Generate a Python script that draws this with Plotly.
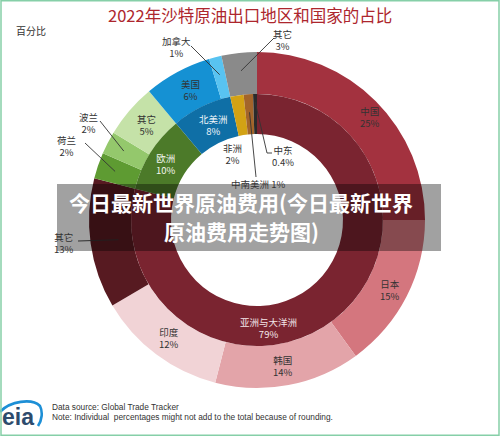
import math
import plotly.graph_objects as go

# ---------------- data ----------------
region_labels = ["亚洲与大洋洲", "欧洲", "北美洲", "非洲", "中南美洲", "中东"]
region_values = [79.0, 9.9, 7.7, 1.7, 1.2, 0.5]
region_text = ["79%", "10%", "8%", "2%", "1%", "0.4%"]

country_labels = ["中国", "日本", "韩国", "印度", "其它", "荷兰", "波兰", "其它", "美国", "加拿大", "其它"]
country_values = [25.0, 15.0, 14.0, 12.5, 12.5, 2.5, 2.2, 5.2, 6.5, 1.2, 3.4]
country_text = ["25%", "15%", "14%", "12%", "13%", "2%", "2%", "5%", "6%", "1%", "3%"]

title_text = "2022年沙特原油出口地区和国家的占比"
unit_text = "百分比"
banner_lines = ["今日最新世界原油费用(今日最新世界", "原油费用走势图)"]
source_lines = ["Data source: Global Trade Tracker",
                "Note: Individual  percentages might not add to the total because of rounding."]

# ---------------- styles / layout ----------------
W, H = 500, 436
CX, CY = 257, 220
R_OUT, R_MID, R_IN = 168, 126, 86
FONT = "Noto Sans CJK SC"

region_colors = ["#7a2430", "#4c7a29", "#0f6fa6", "#d3a214", "#a3652a", "#2b2b2b"]
country_colors = ["#a3323f", "#d4767e", "#e3a4a9", "#f1d3d6", "#571a21",
                  "#5e9b32", "#94c86c", "#c5e2a8", "#1591d3", "#58c3f1", "#8a8a8a"]


def fx(x):
    return x / W


def fy(y):
    return 1 - y / H


def mid_angles(values):
    total = sum(values)
    out, cum = [], 0.0
    for v in values:
        out.append((cum + v / 2) / total * 360)
        cum += v
    return out


def polar(theta, r):
    t = math.radians(theta)
    return CX + r * math.sin(t), CY - r * math.cos(t)


# label placement: text position (px), optional leader line (end point px, radius of start in slice)
country_place = {
    0: dict(pos=(370, 117)),
    1: dict(pos=(390, 290)),
    2: dict(pos=(283, 366)),
    3: dict(pos=(169, 338)),
    4: dict(pos=(64, 243), line_end=(78, 241), line_r=140),
    5: dict(pos=(66, 146), line_end=(85, 143), line_r=150),
    6: dict(pos=(88, 123), line_end=(100, 121), line_r=150),
    7: dict(pos=(146, 125)),
    8: dict(pos=(190, 90)),
    9: dict(pos=(176, 47), line_end=(191, 46), line_r=150),
    10: dict(pos=(282, 40), line_end=(274, 38), line_r=150),
}
region_place = {
    0: dict(pos=(268, 328), color="#f3e6e8"),
    1: dict(pos=(166, 164), color="#f2f6ee"),
    2: dict(pos=(213, 125), color="#eef5fa"),
    3: dict(pos=(232, 154)),
    4: dict(pos=(258, 184), single=True, line_end=(256, 177), line_r=108),
    5: dict(pos=(283, 156), line_end=(267, 153), line_r=118, elbow=(272, 153)),
}

fig = go.Figure()

fig.add_trace(go.Pie(
    values=country_values, labels=[f"{a}{i}" for i, a in enumerate(country_labels)],
    sort=False, direction="clockwise", rotation=0, hole=R_MID / R_OUT,
    marker=dict(colors=country_colors, line=dict(width=0)),
    textinfo="none", hoverinfo="skip",
    domain=dict(x=[fx(CX - R_OUT), fx(CX + R_OUT)], y=[fy(CY + R_OUT), fy(CY - R_OUT)]),
))
fig.add_trace(go.Pie(
    values=region_values, labels=region_labels,
    sort=False, direction="clockwise", rotation=0, hole=R_IN / R_MID,
    marker=dict(colors=region_colors, line=dict(width=0)),
    textinfo="none", hoverinfo="skip",
    domain=dict(x=[fx(CX - R_MID), fx(CX + R_MID)], y=[fy(CY + R_MID), fy(CY - R_MID)]),
))

annotations = []
shapes = []


def add_labels(labels, texts, values, place):
    mids = mid_angles(values)
    for i, (lab, txt) in enumerate(zip(labels, texts)):
        p = place.get(i)
        if p is None:
            continue
        x, y = p["pos"]
        color = p.get("color", "#333333")
        content = f"{lab} {txt}" if p.get("single") else f"{lab}<br>{txt}"
        annotations.append(dict(
            x=fx(x), y=fy(y), xref="paper", yref="paper", text=content,
            showarrow=False, xanchor="center", yanchor="middle",
            font=dict(family=FONT, size=9.5, color=color), align="center",
        ))
        if "line_end" in p:
            sx, sy = polar(mids[i], p["line_r"])
            ex, ey = p["line_end"]
            if "elbow" in p:
                bx, by = p["elbow"]
                path = f"M {fx(sx)} {fy(sy)} L {fx(ex)} {fy(ey)} L {fx(bx)} {fy(by)}"
                shapes.append(dict(type="path", xref="paper", yref="paper", path=path,
                                   line=dict(color="#333333", width=0.9)))
            else:
                shapes.append(dict(type="line", xref="paper", yref="paper",
                                   x0=fx(sx), y0=fy(sy), x1=fx(ex), y1=fy(ey),
                                   line=dict(color="#333333", width=0.9)))


add_labels(country_labels, country_text, country_values, country_place)
add_labels(region_labels, region_text, region_values, region_place)

# title & unit
annotations.append(dict(x=fx(250), y=fy(15), xref="paper", yref="paper", text=title_text,
                        showarrow=False, font=dict(family=FONT, size=16.5, color="#ad262d"),
                        xanchor="center", yanchor="middle"))
annotations.append(dict(x=fx(14), y=fy(30), xref="paper", yref="paper", text=unit_text,
                        showarrow=False, font=dict(family=FONT, size=10, color="#333333"),
                        xanchor="left", yanchor="middle"))

# banner overlay
shapes.append(dict(type="rect", xref="paper", yref="paper",
                   x0=fx(57), x1=fx(441), y0=fy(251), y1=fy(184),
                   fillcolor="rgba(0,0,0,0.37)", line=dict(width=0), layer="above"))
for ln, yy in zip(banner_lines, [202, 231]):
    annotations.append(dict(x=fx(241), y=fy(yy), xref="paper", yref="paper",
                            text=f"<b>{ln}</b>", showarrow=False,
                            font=dict(family=FONT, size=21, color="#ffffff"),
                            xanchor="center", yanchor="middle"))

# source notes
for ln, yy in zip(source_lines, [407, 417]):
    annotations.append(dict(x=fx(50), y=fy(yy), xref="paper", yref="paper", text=ln,
                            showarrow=False, font=dict(family="Liberation Sans", size=8.3, color="#333333"),
                            xanchor="left", yanchor="middle"))

# eia logo
annotations.append(dict(x=fx(18), y=fy(417), xref="paper", yref="paper", text="<b>eia</b>",
                        showarrow=False, font=dict(family="Liberation Sans", size=23, color="#2d4b6d"),
                        xanchor="center", yanchor="middle"))
swoosh = (f"M {fx(0)} {fy(412)} C {fx(10)} {fy(401)}, {fx(32)} {fy(398)}, {fx(40)} {fy(406)} "
          f"C {fx(43)} {fy(412)}, {fx(42)} {fy(420)}, {fx(38)} {fy(426)}")
shapes.append(dict(type="path", xref="paper", yref="paper", path=swoosh,
                   line=dict(color="#1d8fd6", width=2.6)))

# border
shapes.append(dict(type="rect", xref="paper", yref="paper", x0=0.002, x1=0.998, y0=0.002, y1=0.998,
                   line=dict(color="#86cfa8", width=1.5)))

fig.update_layout(
    width=W, height=H, margin=dict(l=0, r=0, t=0, b=0),
    paper_bgcolor="white", plot_bgcolor="white", showlegend=False,
    annotations=annotations, shapes=shapes,
)

fig.write_html("out.html", config={"displayModeBar": False},
               post_script="document.body.style.margin='0';document.body.style.overflow='hidden';")
